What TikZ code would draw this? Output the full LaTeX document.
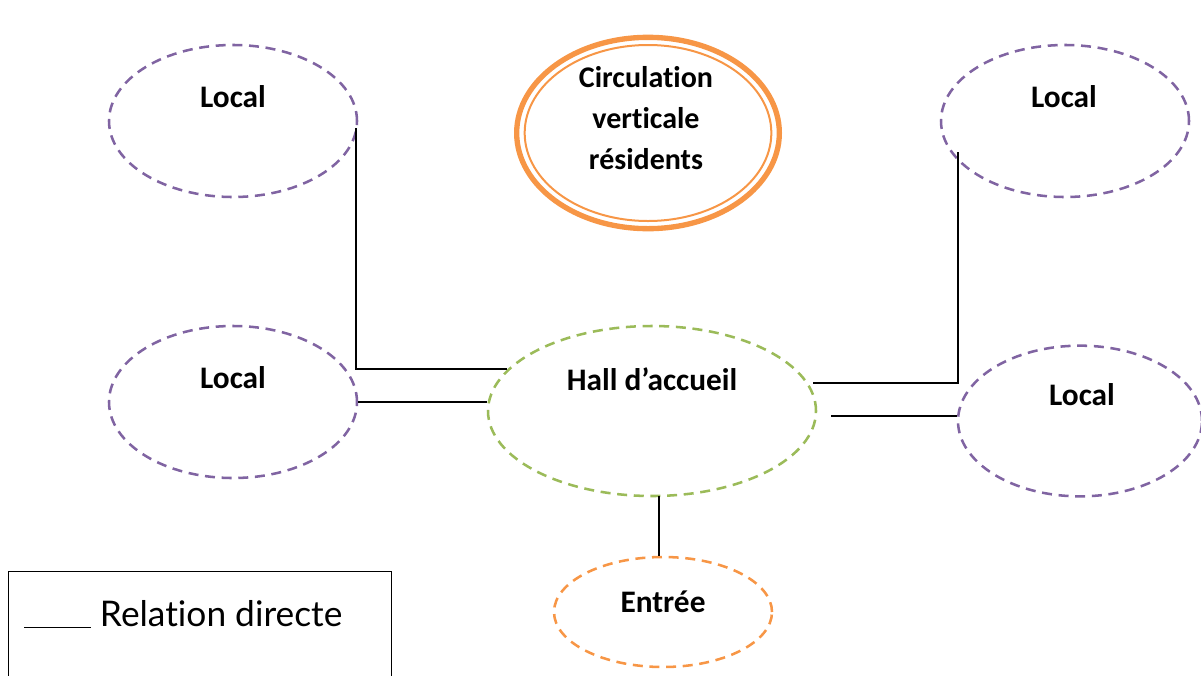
\documentclass[tikz,border=0pt]{standalone}
\usepackage{fontspec}
\setmainfont[Ligatures=NoCommon]{Carlito}
\newfontfamily\legendfont[Ligatures=NoCommon]{Lato}
\usetikzlibrary{shapes.geometric}
\definecolor{lavpurple}{HTML}{8064A2}
\definecolor{lavgreen}{HTML}{9BBB59}
\definecolor{lavorange}{HTML}{F79646}
\tikzset{
  zone/.style={ellipse, draw, line width=1.9pt, dash pattern=on 7.5pt off 5pt, inner sep=0pt},
  room/.style={zone, lavpurple, minimum width=186pt, minimum height=114pt},
  lbl/.style={font=\bfseries\fontsize{23.5}{28}\selectfont, anchor=base, inner sep=0pt},
  link/.style={draw=black, line width=1.5pt},
}
\begin{document}
\begin{tikzpicture}[x=0.75pt, y=-0.75pt]
\useasboundingbox (0,0) rectangle (1201,675);
% rooms
\node[room] (ltop) at (233,121) {};
\node[room] (lmid) at (233,402) {};
\node[room] (rtop) at (1065,121) {};
\node[room, minimum width=183pt, minimum height=113pt] (rmid) at (1080,421) {};
\node[zone, lavgreen, minimum width=246pt, minimum height=127.5pt] (hall) at (652,411) {};
\node[zone, lavorange, minimum width=163.5pt, minimum height=82.5pt] (entree) at (663,612) {};
% vertical circulation (double ring)
\node[ellipse, draw=lavorange, line width=4pt, minimum width=197pt, minimum height=143.5pt, inner sep=0pt] (circ) at (648,133) {};
\node[ellipse, draw=lavorange, line width=1.5pt, minimum width=185pt, minimum height=132pt, inner sep=0pt] (circin) at (648,133) {};
% labels
\node[lbl] (tltop) at (233,107) {Local};
\node[lbl] (tlmid) at (233,388) {Local};
\node[lbl] (trtop) at (1064,107) {Local};
\node[lbl] (trmid) at (1082,405) {Local};
\node[lbl] (thall) at (652,390) {Hall d’accueil};
\node[lbl] (tentree) at (663,612) {Entrée};
\node[font=\bfseries\fontsize{22.5}{30.75}\selectfont, align=center, anchor=center, inner sep=0pt] (tcirc) at (646,118) {Circulation\\verticale\\résidents};
% connectors
\coordinate (a1) at (356,128);
\draw[link] (a1) |- (hall.164.6);
\draw[link] (lmid.east) -- (hall.west |- lmid.east);
\coordinate (b1) at (813,383);
\coordinate (b2) at (958,152);
\draw[link] (b1) -| (b2);
\coordinate (c1) at (831,416);
\draw[link] (c1) -- (rmid.west |- c1);
\coordinate (e1) at (659,496);
\draw[link] (e1) -- (e1 |- entree.north);
% legend
\node[draw=black, line width=1.1pt, minimum width=287.25pt, minimum height=97.5pt, anchor=north west, inner sep=0pt] (legend) at (8,571) {};
\node[font=\legendfont\fontsize{26.5}{30}\selectfont, anchor=base west, inner sep=0pt] (tlegend) at (24,626) {\rule[-1.5pt]{50pt}{1.1pt} Relation directe};
\end{tikzpicture}
\end{document}
